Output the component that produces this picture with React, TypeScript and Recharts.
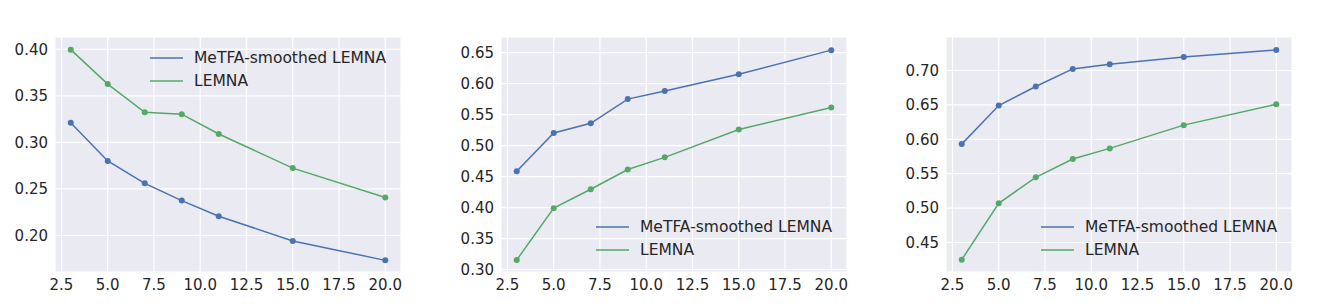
import React from 'react';
import { LineChart, Line, XAxis, YAxis, CartesianGrid } from 'recharts';

// number of features (x) shared by all three panels
const featureCounts = [3, 5, 7, 9, 11, 15, 20];
const xTicks = [2.5, 5, 7.5, 10, 12.5, 15, 17.5, 20];

// panel 1
const metfaA = [0.321, 0.28, 0.256, 0.2375, 0.2207, 0.1942, 0.1733];
const lemnaA = [0.3996, 0.3626, 0.3324, 0.3303, 0.309, 0.2724, 0.2409];
const yTicksA = [0.2, 0.25, 0.3, 0.35, 0.4];

// panel 2
const metfaB = [0.4585, 0.5203, 0.536, 0.575, 0.588, 0.615, 0.654];
const lemnaB = [0.3155, 0.399, 0.4295, 0.4613, 0.481, 0.5258, 0.5613];
const yTicksB = [0.3, 0.35, 0.4, 0.45, 0.5, 0.55, 0.6, 0.65];

// panel 3
const metfaC = [0.593, 0.649, 0.6768, 0.7023, 0.709, 0.7198, 0.7299];
const lemnaC = [0.425, 0.507, 0.5447, 0.5713, 0.5868, 0.6206, 0.651];
const yTicksC = [0.45, 0.5, 0.55, 0.6, 0.65, 0.7];

const seriesNames = ['MeTFA-smoothed LEMNA', 'LEMNA'];
const BLUE = '#4c72b0';
const GREEN = '#55a868';
const TEXT = '#262626';
const FONT = '"DejaVu Sans", sans-serif';

const build = (a: number[], b: number[]) =>
  featureCounts.map((x, i) => ({ x, metfa: a[i], lemna: b[i] }));

type PanelProps = {
  left: number;
  width: number;
  yWidth: number;
  rightMargin: number;
  data: { x: number; metfa: number; lemna: number }[];
  yDomain: [number, number];
  yTicks: number[];
  legendLeft: number;
  legendTop: number;
};

const Panel: React.FC<PanelProps> = ({ left, width, yWidth, rightMargin, data, yDomain, yTicks, legendLeft, legendTop }) => {
  return (
    <div style={{ position: 'absolute', left, top: 0, width, height: 306 }}>
      <LineChart width={width} height={306} data={data} margin={{ top: 37, right: rightMargin, left: 0, bottom: 0 }}>
        <CartesianGrid fill="#eaeaf2" stroke="#ffffff" strokeWidth={1.2} />
        <XAxis
          dataKey="x"
          type="number"
          domain={[2.15, 20.85]}
          ticks={xTicks}
          allowDataOverflow
          height={34}
          axisLine={false}
          tickLine={false}
          tickSize={0}
          tickMargin={7}
          tickFormatter={(v: number) => v.toFixed(1)}
          tick={{ fill: TEXT, fontSize: 15, fontFamily: FONT }}
          interval={0}
        />
        <YAxis
          type="number"
          domain={yDomain}
          ticks={yTicks}
          allowDataOverflow
          width={yWidth}
          axisLine={false}
          tickLine={false}
          tickSize={0}
          tickMargin={7}
          tickFormatter={(v: number) => v.toFixed(2)}
          tick={{ fill: TEXT, fontSize: 15, fontFamily: FONT }}
          interval={0}
        />
        <Line dataKey="metfa" stroke={BLUE} strokeWidth={1.5} dot={{ r: 3, fill: BLUE, stroke: 'none' }} isAnimationActive={false} />
        <Line dataKey="lemna" stroke={GREEN} strokeWidth={1.5} dot={{ r: 3, fill: GREEN, stroke: 'none' }} isAnimationActive={false} />
      </LineChart>
      <div style={{ position: 'absolute', left: legendLeft, top: legendTop, fontFamily: FONT, fontSize: 15.5, color: TEXT }}>
        {seriesNames.map((name, i) => (
          <div key={name} style={{ display: 'flex', alignItems: 'center', height: 23.6, whiteSpace: 'nowrap' }}>
            <svg width={33} height={4} style={{ marginRight: 11 }}>
              <line x1={0} y1={2} x2={33} y2={2} stroke={i === 0 ? BLUE : GREEN} strokeWidth={1.5} />
            </svg>
            {name}
          </div>
        ))}
      </div>
    </div>
  );
};

export default function App() {
  return (
    <div style={{ position: 'absolute', left: 0, top: 0, width: 1336, height: 306, background: '#ffffff', overflow: 'hidden' }}>
      <Panel left={0} width={420} yWidth={55} rightMargin={19} data={build(metfaA, lemnaA)} yDomain={[0.1608, 0.4132]} yTicks={yTicksA} legendLeft={150} legendTop={46} />
      <Panel left={440} width={420} yWidth={61} rightMargin={13} data={build(metfaB, lemnaB)} yDomain={[0.296, 0.6752]} yTicks={yTicksB} legendLeft={156} legendTop={215} />
      <Panel left={885} width={451} yWidth={61} rightMargin={44} data={build(metfaC, lemnaC)} yDomain={[0.4071, 0.7487]} yTicks={yTicksC} legendLeft={156} legendTop={215} />
    </div>
  );
}
